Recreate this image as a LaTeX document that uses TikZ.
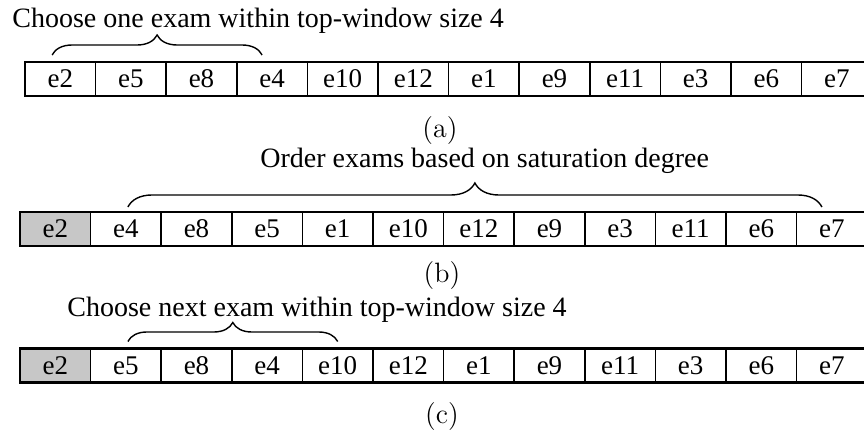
\documentclass[tikz,border=0pt]{standalone}
\usepackage{fontspec}
\newfontfamily\timesfont{Liberation Serif}
\usetikzlibrary{positioning,decorations.pathreplacing}
\tikzset{
    examcell/.style={draw, line width=0.8pt, minimum width=35.3pt,
        minimum height=17pt, inner sep=0pt, outer sep=0pt,
        font=\timesfont\fontsize{13.5}{15}\selectfont},
    donecell/.style={examcell, fill=black!22},
    rowframe/.style={draw, line width=1.1pt},
    window/.style={decorate, decoration={brace, amplitude=#1}, line width=0.7pt},
    window/.default=10pt,
    steptext/.style={anchor=base west, inner sep=0pt,
        font=\timesfont\fontsize{14}{16}\selectfont},
    sublabel/.style={font=\fontsize{14}{16}\selectfont}
}

\begin{document}
\begin{tikzpicture}[x=0.5pt, y=-0.5pt]
\useasboundingbox (0,0) rectangle (864,433);
\clip (0,0) rectangle (864,433);

% (a) initial ordering
\foreach \e [count=\i] in {e2,e5,e8,e4,e10,e12,e1,e9,e11,e3,e6,e7}
    \node[examcell] (a\i) at ({60.3+70.6*(\i-1)}, 79) {\e};
\draw[rowframe] (a1.north west) rectangle (a12.south east);
\draw[window=10pt] ([xshift=-4.1pt, yshift=3.5pt]a1.north) -- ([xshift=-5pt, yshift=3.5pt]a4.north);
\node[steptext] (pickone) at (12,28) {Choose one exam within top-window size 4};
\node[sublabel] (laba) at (440,131) {(a)};

% (b) reorder by saturation degree
\foreach \e [count=\i] in {e2,e4,e8,e5,e1,e10,e12,e9,e3,e11,e6,e7}
    \node[examcell] (b\i) at ({55.3+70.6*(\i-1)}, 229) {\e};
\node[donecell] at (b1) {e2};
\draw[rowframe] (b1.north west) rectangle (b12.south east);
\draw[window=12pt] ([xshift=1pt, yshift=2.5pt]b2.north) -- ([xshift=-5pt, yshift=2.5pt]b12.north);
\node[steptext] (reorder) at (260,168) {Order exams based on saturation degree};
\node[sublabel] (labb) at (442,276) {(b)};

% (c) next choice
\foreach \e [count=\i] in {e2,e5,e8,e4,e10,e12,e1,e9,e11,e3,e6,e7}
    \node[examcell] (c\i) at ({55.3+70.6*(\i-1)}, 365.5) {\e};
\node[donecell] at (c1) {e2};
\draw[rowframe] (c1.north west) rectangle (c12.south east);
\draw[window=9.5pt] ([xshift=1pt, yshift=3.5pt]c2.north) -- ([xshift=0pt, yshift=3.5pt]c5.north);
\node[steptext] (picknext) at (67,317) {Choose next exam within top-window size 4};
\node[sublabel] (labc) at (442,417) {(c)};
\end{tikzpicture}
\end{document}
